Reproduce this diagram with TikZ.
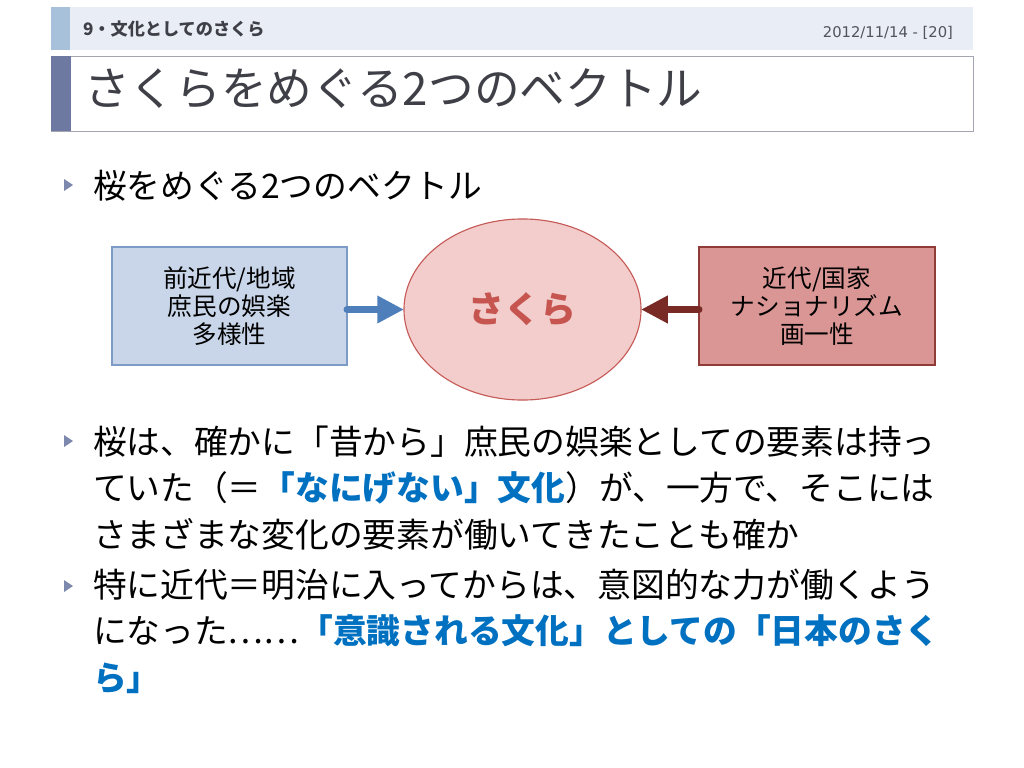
\documentclass[tikz,border=0pt]{standalone}
\usepackage{fontspec}
\setmainfont{Noto Sans CJK JP}
\newfontfamily\datefont{DejaVu Sans}
\usetikzlibrary{shapes.geometric,arrows.meta}

\definecolor{headfill}{HTML}{E9EEF6}
\definecolor{headbar}{HTML}{A8C1DA}
\definecolor{titlebar}{HTML}{6D79A1}
\definecolor{titleline}{HTML}{A3A6B0}
\definecolor{titleink}{HTML}{3F3F47}
\definecolor{markgrey}{HTML}{7D88AE}
\definecolor{keyblue}{HTML}{0070C0}
\definecolor{oldfill}{HTML}{C9D6E9}
\definecolor{oldline}{HTML}{7C9BC7}
\definecolor{oldarrow}{HTML}{4F7FBB}
\definecolor{sakurafill}{HTML}{F2CDCC}
\definecolor{sakuraline}{HTML}{C55A56}
\definecolor{sakuraink}{HTML}{C65550}
\definecolor{newfill}{HTML}{D99694}
\definecolor{newline}{HTML}{8F3B38}
\definecolor{newarrow}{HTML}{7A2A25}

\newcommand\hilite[1]{\textcolor{keyblue}{\bfseries #1}}

\begin{document}
\begin{tikzpicture}[
  x=0.025cm,y=-0.025cm,
  every node/.style={inner sep=0pt,outer sep=0pt},
  headtext/.style={font=\fontsize{12.2}{15}\selectfont\bfseries,text=titleink,anchor=base west},
  datetext/.style={font=\datefont\fontsize{10.5}{13}\selectfont,text=titleink!90,anchor=base east},
  titletext/.style={font=\fontsize{32.5}{38}\selectfont,text=titleink,anchor=base west},
  pointtext/.style={font=\fontsize{24}{33}\selectfont,align=left,anchor=base west},
  vecbox/.style={rectangle,minimum height=2.95cm,font=\fontsize{17.5}{20}\selectfont,align=center,line width=0.8pt},
  sakura/.style={ellipse,minimum width=5.925cm,minimum height=4.525cm,draw=sakuraline,fill=sakurafill,line width=0.8pt,
    font=\fontsize{25.5}{30}\selectfont\bfseries,text=sakuraink},
  vecarrow/.style={line width=5pt,line cap=round,-{Triangle[length=19pt,width=18.5pt]}}
]
  \useasboundingbox (0,0) rectangle (1024,768);

  \fill[headfill] (51,7) rectangle (973,50);
  \fill[headbar] (51,7) rectangle (70,50);
  \node[headtext] (section) at (83,36) {9・文化としてのさくら};
  \node[datetext] (date) at (953,38) {2012/11/14 - [20]};

  \draw[titleline,fill=white] (51,56) rectangle (973,131);
  \fill[titlebar] (51,56) rectangle (71,131);
  \node[titletext] (title) at (84,106) {さくらをめぐる2つのベクトル};

  \foreach \y in {185,441,586}
    \fill[markgrey] (64,\y-6) -- (73,\y) -- (64,\y+6) -- cycle;

  \node[pointtext] (point1) at (93,198) {桜をめぐる2つのベクトル};

  \node[vecbox,minimum width=5.875cm,draw=oldline,fill=oldfill] (old) at (229.5,306) {前近代/地域\\庶民の娯楽\\多様性};
  \node[sakura] (center) at (522.5,309.5) {さくら};
  \node[vecbox,minimum width=5.9cm,draw=newline,fill=newfill] (new) at (817,306) {近代/国家\\ナショナリズム\\画一性};

  \draw[vecarrow,oldarrow] (old.east |- center.west) -- (center.west);
  \draw[vecarrow,newarrow] (new.west |- center.east) -- (center.east);

  \node[pointtext] (point2) at (93,547) {桜は、確かに「昔から」庶民の娯楽としての要素は持っ\\ていた（＝\hilite{「なにげない」文化}）が、一方で、そこには\\さまざまな変化の要素が働いてきたことも確か};
  \node[pointtext] (point3) at (93,690) {特に近代＝明治に入ってからは、意図的な力が働くよう\\になった……\hilite{「意識される文化」としての「日本のさく}\\\hilite{ら」}};
\end{tikzpicture}
\end{document}
